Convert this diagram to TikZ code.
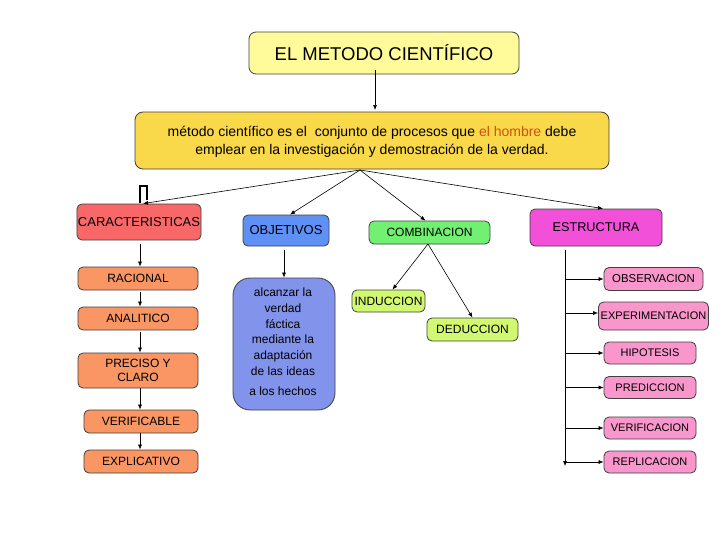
\documentclass[tikz,border=0pt]{standalone}
\usepackage{fontspec}
\setmainfont{Liberation Sans}
\usetikzlibrary{arrows.meta}
\definecolor{ctitle}{HTML}{FFFB9A}
\definecolor{cdef}{HTML}{F9D84A}
\definecolor{ccar}{HTML}{F86868}
\definecolor{corange}{HTML}{F99664}
\definecolor{cobj}{HTML}{5F90F5}
\definecolor{calc}{HTML}{8293EC}
\definecolor{ccom}{HTML}{72F072}
\definecolor{clime}{HTML}{D2F872}
\definecolor{cest}{HTML}{F250D8}
\definecolor{cpink}{HTML}{F996CC}
\definecolor{chombre}{HTML}{D0500F}
\tikzset{
  box/.style={draw=black!75, rounded corners=5pt, line width=0.8pt, align=center, inner sep=1pt, font=\fontsize{12}{14}\selectfont},
  rbox/.style={box, fill=cpink, font=\fontsize{11}{13}\selectfont},
  arr/.style={-{Latex[length=5pt,width=4pt]}, line width=0.6pt}
}
\begin{document}
\begin{tikzpicture}[x=1pt,y=-1pt]
\useasboundingbox (0,0) rectangle (728,546);
\fill[white] (0,0) rectangle (728,546);
% main
\node[box, fill=ctitle, rounded corners=7pt, minimum width=270pt, minimum height=42pt, font=\fontsize{18.5}{21}\selectfont] (title) at (384,53) {EL METODO CIENTÍFICO};
\node[box, fill=cdef, rounded corners=8pt, minimum width=474pt, minimum height=57pt, font=\fontsize{14}{18}\selectfont] (def) at (372,140.5) {};
\node[font=\fontsize{14}{18}\selectfont, align=center, inner sep=0pt] (deft) at (372,142) {método científico es el\ \ conjunto de procesos que \textcolor{chombre}{el hombre} debe\\emplear en la investigación y demostración de la verdad.};
\draw[arr] (title.south -| 375,0) ++(0,-4) -- (375,110);
% level 2
\node[box, fill=ccar, minimum width=124pt, minimum height=36pt, font=\fontsize{13}{15}\selectfont] (car) at (139,222) {CARACTERISTICAS};
\node[box, fill=cobj, minimum width=86pt, minimum height=31pt, font=\fontsize{13}{15}\selectfont] (obj) at (286,230.5) {OBJETIVOS};
\node[box, fill=ccom, minimum width=121pt, minimum height=23pt] (com) at (429.5,232.5) {COMBINACION};
\node[box, fill=cest, minimum width=132pt, minimum height=37pt, font=\fontsize{12.7}{15}\selectfont] (est) at (596,227.5) {ESTRUCTURA};
\coordinate (hub) at (360,170);
\draw[arr] (hub) -- ([xshift=4pt]car.north);
\draw[arr] (hub) -- ([xshift=4pt]obj.north);
\draw[arr] (hub) -- ([xshift=-4pt]com.north);
\draw[arr] (hub) -- ([xshift=7pt]est.north);
\draw[line width=1.6pt] (140,203) -- (140,186) -- (147,186) -- (147,200);
% caracteristicas column
\node[box, fill=corange, minimum width=120pt, minimum height=23pt] (rac) at (138,278.5) {RACIONAL};
\node[box, fill=corange, minimum width=120pt, minimum height=23pt] (ana) at (138,318.5) {ANALITICO};
\node[box, fill=corange, minimum width=120pt, minimum height=35pt, font=\fontsize{12}{13.3}\selectfont] (pre) at (138,370.5) {PRECISO Y\\CLARO};
\node[box, fill=corange, minimum width=114pt, minimum height=23pt] (ver) at (141,421.5) {VERIFICABLE};
\node[box, fill=corange, minimum width=114pt, minimum height=23pt] (exp) at (141,461.5) {EXPLICATIVO};
\coordinate (cx) at (140,0);
\draw[arr] ([yshift=-4pt]car.south -| cx) -- (rac.north -| cx);
\draw[arr] ([yshift=-2pt]rac.south -| cx) -- (ana.north -| cx);
\draw[arr] ([yshift=-2pt]ana.south -| cx) -- (pre.north -| cx);
\draw[arr] (pre.south -| cx) -- (ver.north -| cx);
\draw[arr] (ver.south -| cx) -- (exp.north -| cx);
% objetivos
\node[box, fill=calc, rounded corners=17pt, minimum width=102pt, minimum height=132pt] (alc) at (284,344) {};
\node[font=\fontsize{12}{15.7}\selectfont, align=center, inner sep=0pt] (alct) at (283,342) {alcanzar la\\verdad\\fáctica\\mediante la\\adaptación\\de las ideas\\[5pt]a los hechos};
\draw[arr] ([yshift=-4pt]obj.south -| 284,0) -- (alc.north -| 284,0);
% combinacion
\node[box, fill=clime, minimum width=73pt, minimum height=22pt] (ind) at (388.5,301) {INDUCCION};
\node[box, fill=clime, minimum width=91pt, minimum height=23pt] (ded) at (472.5,329.5) {DEDUCCION};
\coordinate (cb) at (428,244);
\draw[arr] (cb) -- ([xshift=4pt]ind.north);
\draw[arr] (cb) -- (ded.north);
% estructura
\node[rbox, minimum width=99pt, minimum height=23pt, font=\fontsize{11.4}{13}\selectfont] (obs) at (653.5,279) {OBSERVACION};
\node[rbox, minimum width=110pt, minimum height=28pt] (expm) at (653.5,316) {EXPERIMENTACION};
\node[rbox, minimum width=92pt, minimum height=22pt] (hip) at (650,353) {HIPOTESIS};
\node[rbox, minimum width=92pt, minimum height=22pt] (pred) at (650,387.5) {PREDICCION};
\node[rbox, minimum width=92pt, minimum height=22pt] (verf) at (650,428) {VERIFICACION};
\node[rbox, minimum width=92pt, minimum height=22pt] (rep) at (650,462) {REPLICACION};
\coordinate (vs) at (565,250);
\coordinate (ve) at (565,466);
\draw[arr] (vs) -- (ve);
\coordinate (sx) at (565,0);
\draw[arr] (sx |- obs.west) -- (obs.west);
\coordinate (e1) at (565,313);
\draw[arr] (e1) -- (e1 -| expm.west);
\draw[arr] (sx |- hip.west) -- (hip.west);
\draw[arr] (sx |- pred.west) -- (pred.west);
\draw[arr] (sx |- verf.west) -- (verf.west);
\draw[arr] (sx |- rep.west) -- (rep.west);
\end{tikzpicture}
\end{document}
